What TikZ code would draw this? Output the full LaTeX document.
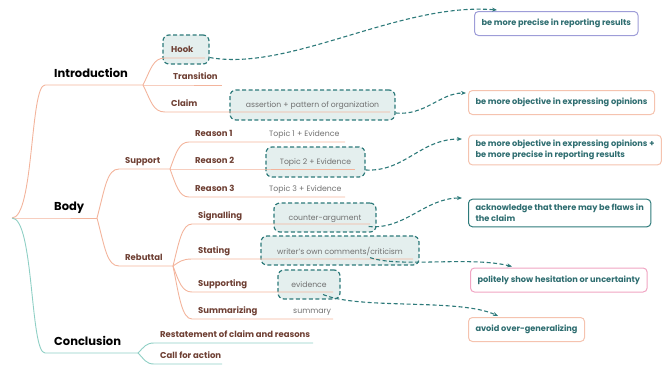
\documentclass[tikz,border=0pt]{standalone}
\usepackage{fontspec}
\setmainfont{Poppins}
\usetikzlibrary{arrows.meta,positioning}

\definecolor{branchcol}{HTML}{F3B49C}
\definecolor{endcol}{HTML}{8FCFC5}
\definecolor{labelcol}{HTML}{6E3F33}
\definecolor{topiccol}{HTML}{707070}
\definecolor{notefill}{HTML}{E4EFEE}
\definecolor{notecol}{HTML}{2D7A7A}
\definecolor{tipcol}{HTML}{2E6D70}
\definecolor{violetcol}{HTML}{9E9DD8}
\definecolor{peachcol}{HTML}{F5C3AF}
\definecolor{pinkcol}{HTML}{F1A5C3}

\begin{document}
\begin{tikzpicture}[x=1pt, y=-1pt,
        line/.style={draw=branchcol, line width=0.9pt},
        endline/.style={draw=endcol, line width=0.9pt},
        main/.style={anchor=south west, inner xsep=9pt, inner ysep=7pt, text depth=0pt,
            font=\fontsize{11.5}{13}\selectfont\bfseries},
        sub/.style={anchor=south west, inner xsep=6pt, inner ysep=5pt, text depth=0pt,
            text=labelcol, font=\fontsize{8.5}{10}\selectfont\bfseries},
        topic/.style={anchor=south west, inner xsep=0pt, inner ysep=5pt, text depth=0pt,
            text=topiccol, font=\fontsize{7.8}{9}\selectfont},
        note/.style={draw=notecol, fill=notefill, dash pattern=on 4pt off 2.5pt,
            line width=1.2pt, rounded corners=6pt, inner sep=0pt, text depth=0pt,
            text=topiccol, font=\fontsize{7.7}{9}\selectfont},
        tip/.style={anchor=west, fill=white, line width=1pt, rounded corners=4pt,
            minimum height=24pt, inner xsep=7pt, inner ysep=5pt, align=left,
            text=tipcol, font=\fontsize{8.2}{11}\selectfont\bfseries},
        link/.style={draw=notecol, dash pattern=on 4pt off 2.5pt, line width=1.1pt}
    ]
    \useasboundingbox (0,0) rectangle (664,365);

    \begin{scope}[every node/.style={note}]
        \node[minimum width=46pt, minimum height=29pt] (hooknote) at (186,49.5) {};
        \node[minimum width=165pt, minimum height=30pt] (assertion) at (312.5,105) {assertion + pattern of organization};
        \node[minimum width=99pt, minimum height=30pt] (topic2) at (315.5,162) {Topic 2 + Evidence};
        \node[minimum width=102pt, minimum height=29pt] (counter) at (325,217.5) {counter-argument};
        \node[minimum width=158pt, minimum height=29pt] (writer) at (340,250.5) {writer's own comments/criticism};
        \node[minimum width=62pt, minimum height=29pt] (evidence) at (309,284.5) {evidence};
    \end{scope}

    \coordinate (root) at (12,218);

    \begin{scope}[every node/.style={main}]
        \node (intro) at (45,85) {Introduction};
        \node (body) at (45,218) {Body};
        \node (concl) at (45,353) {Conclusion};
    \end{scope}

    \begin{scope}[every node/.style={sub}]
        \node (hook) at (165,58) {Hook};
        \node (transition) at (167,85) {Transition};
        \node (claim) at (165,112) {Claim};
        \node (support) at (119,169) {Support};
        \node (rebuttal) at (119,266) {Rebuttal};
        \node (reason1) at (189,142) {Reason 1};
        \node (reason2) at (189,169) {Reason 2};
        \node (reason3) at (189,197) {Reason 3};
        \node (signalling) at (192,224) {Signalling};
        \node (stating) at (192,259) {Stating};
        \node (supporting) at (192,292) {Supporting};
        \node (summarizing) at (192,319) {Summarizing};
        \node (restate) at (154,343) {Restatement of claim and reasons};
        \node (callact) at (154,364) {Call for action};
    \end{scope}

    \begin{scope}[every node/.style={topic}]
        \node (topic1) at (269,142) {Topic 1 + Evidence};
        \node (topic3) at (269,197) {Topic 3 + Evidence};
        \node (summary) at (293,319) {summary};
    \end{scope}

    \draw[line] (root) .. controls (34,218) and (30,85) .. (intro.south west) -- ++(98,0) coordinate (introj);
    \draw[line] (root) -- (body.south west) -- ++(52,0) coordinate (bodyj);
    \draw[endline] (root) .. controls (34,218) and (30,353) .. (concl.south west) -- ++(93,0) coordinate (conclj);

    \draw[line] (introj) .. controls +(8,-16) and +(-12,0) .. (hook.south west) -- ++(40,0);
    \draw[line] (introj) -- (transition.south west) -- ++(55,0);
    \draw[line] (introj) .. controls +(8,16) and +(-12,0) .. (claim.south west) -- ++(225,0);

    \draw[line] (bodyj) .. controls +(8,-30) and +(-12,0) .. (support.south west) -- ++(51,0) coordinate (supportj);
    \draw[line] (bodyj) .. controls +(8,30) and +(-12,0) .. (rebuttal.south west) -- ++(54,0) coordinate (rebuttalj);

    \draw[line] (supportj) .. controls +(6,-16) and +(-10,0) .. (reason1.south west) -- ++(156,0);
    \draw[line] (supportj) -- (reason2.south west) -- ++(166,0);
    \draw[line] (supportj) .. controls +(6,16) and +(-10,0) .. (reason3.south west) -- ++(156,0);

    \draw[line] (rebuttalj) .. controls +(6,-24) and +(-10,0) .. (signalling.south west) -- ++(178,0);
    \draw[line] (rebuttalj) .. controls +(6,-4) and +(-10,0) .. (stating.south west) -- ++(221,0);
    \draw[line] (rebuttalj) .. controls +(6,16) and +(-10,0) .. (supporting.south west) -- ++(141,0);
    \draw[line] (rebuttalj) .. controls +(6,30) and +(-10,0) .. (summarizing.south west) -- ++(141,0);

    \draw[endline] (conclj) .. controls +(6,-6) and +(-8,0) .. (restate.south west) -- ++(159,0);
    \draw[endline] (conclj) .. controls +(6,6) and +(-8,0) .. (callact.south west) -- ++(68,0);

    \begin{scope}[every node/.style={tip}]
        \node[draw=violetcol] (precise) at (474,23.5) {be more precise in reporting results};
        \node[draw=peachcol] (objective) at (468,102.5) {be more objective in expressing opinions};
        \node[draw=peachcol] (both) at (468,150) {be more objective in expressing opinions +\\be more precise in reporting results};
        \node[draw=notecol] (flaws) at (468,213) {acknowledge that there may be flaws in\\the claim};
        \node[draw=pinkcol] (hesitate) at (470,280) {politely show hesitation or uncertainty};
        \node[draw=peachcol] (overgen) at (468,329.5) {avoid over-generalizing};
    \end{scope}

    \begin{scope}[>={Stealth[notecol, length=5pt, width=4pt]}]
        \draw[link, ->] ([yshift=-8pt]hooknote.east) .. controls (290,72) and (400,2) .. ([xshift=23pt,yshift=1pt]precise.north west);
        \draw[link, ->] ([yshift=-8pt]assertion.east) .. controls (425,116) and (440,93) .. ([xshift=-2pt,yshift=-3pt]objective.north west);
        \draw[link, ->] ([yshift=-8pt]topic2.east) .. controls (405,172) and (420,139) .. ([xshift=-6pt,yshift=11pt]both.west);
        \draw[link, ->] ([xshift=-8pt,yshift=-9pt]counter.east) .. controls (405,230) and (425,198) .. ([xshift=-6pt,yshift=15pt]flaws.west);
        \draw[link, ->] ([xshift=30pt,yshift=8pt]writer.south) .. controls (400,268) and (470,256) .. ([xshift=42pt,yshift=1pt]hesitate.north west);
        \draw[link, ->] ([xshift=14pt,yshift=-10pt]evidence.center) .. controls (360,310) and (460,298) .. ([xshift=30pt,yshift=1pt]overgen.north west);
    \end{scope}

\end{tikzpicture}
\end{document}
